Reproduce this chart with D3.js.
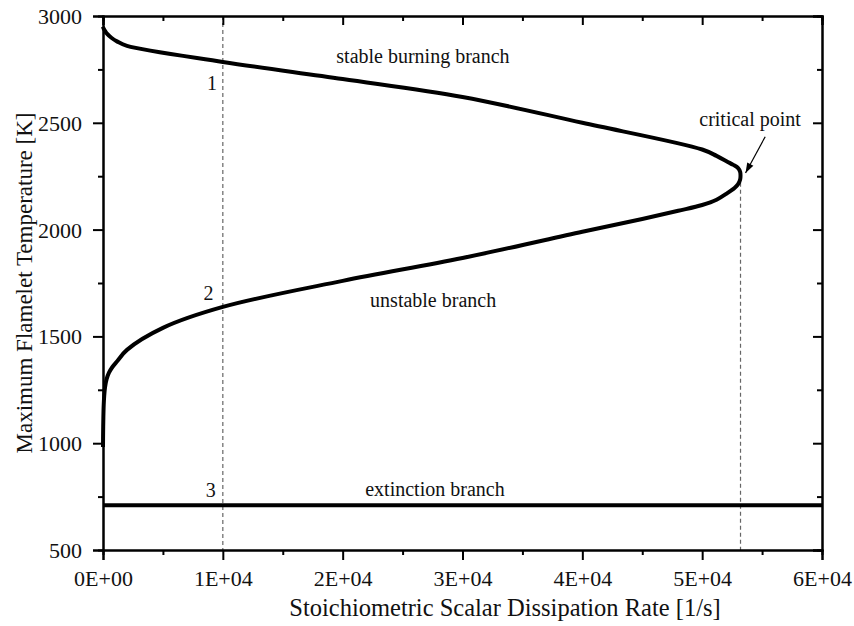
<!DOCTYPE html>
<html><head><meta charset="utf-8">
<script src="https://cdn.jsdelivr.net/npm/d3@7"></script>
<style>body{margin:0;background:#fff}svg text{font-family:"Liberation Serif","Times New Roman",serif;fill:#111}</style>
</head><body>
<svg id="c" width="854" height="626"></svg>
<script>
// S-curve: stoichiometric scalar dissipation rate [1/s] vs maximum flamelet temperature [K]
const chiValues = [0, 10, 30, 60, 100, 170, 300, 500, 800, 1200, 2000, 5000, 10000, 20000, 30000, 40000, 45000, 48000, 50000, 51200, 52100, 52700, 53000, 53170, 53200, 53170, 53000, 52600, 52100, 51200, 50000, 40000, 30000, 20000, 10000, 2000, 1200, 700, 350, 150, 40, 0];
const tempValues = [982, 1050, 1120, 1180, 1220, 1262, 1300, 1330, 1358, 1385, 1437, 1540, 1638, 1760, 1867, 1990, 2050, 2088, 2115, 2140, 2171, 2195, 2213, 2235, 2252, 2270, 2288, 2303, 2318, 2345, 2375, 2500, 2621, 2705, 2785, 2860, 2880, 2898, 2916, 2932, 2943, 2950];
const extinctionChi = [0, 60000];
const extinctionTemp = [710, 710];
const xTicks = [0, 10000, 20000, 30000, 40000, 50000, 60000];
const xTickLabels = ["0E+00", "1E+04", "2E+04", "3E+04", "4E+04", "5E+04", "6E+04"];
const yTicks = [500, 1000, 1500, 2000, 2500, 3000];
const refChi = [10000, 53200];
const criticalTemp = 2252;
const pointLabels = [{t:"1", x:9100, y:2655}, {t:"2", x:8800, y:1670}, {t:"3", x:9000, y:748}];
const branchLabels = [{t:"stable burning branch", x:26700, y:2778}, {t:"unstable branch", x:27550, y:1637}, {t:"extinction branch", x:27700, y:752}];

const svg = d3.select("#c");
const L = 103, R = 822, T = 16, B = 550;
const x = d3.scaleLinear().domain([0, 60000]).range([L, R]);
const y = d3.scaleLinear().domain([500, 3000]).range([B, T]);

// dashed reference lines
svg.append("line").attr("x1", x(refChi[0])).attr("x2", x(refChi[0])).attr("y1", T).attr("y2", B)
  .attr("stroke", "#666").attr("stroke-width", 1.2).attr("stroke-dasharray", "4,3");
svg.append("line").attr("x1", x(refChi[1])).attr("x2", x(refChi[1])).attr("y1", y(criticalTemp)).attr("y2", B)
  .attr("stroke", "#666").attr("stroke-width", 1.2).attr("stroke-dasharray", "4,3");

// axes
const minorX = d3.range(0, 60001, 5000).filter(v => v % 10000 !== 0);
const minorY = d3.range(500, 3001, 250).filter(v => v % 500 !== 0);
const bottom = d3.axisBottom(x).tickValues(xTicks).tickFormat((d,i)=>xTickLabels[i]).tickSize(10);
const left = d3.axisLeft(y).tickValues(yTicks).tickFormat(d3.format("d")).tickSize(10);
const gB = svg.append("g").attr("transform", `translate(0,${B})`).call(bottom);
const gL = svg.append("g").attr("transform", `translate(${L},0)`).call(left);
gB.selectAll(".tick text").attr("y", 36).attr("dy", 0);
gL.selectAll(".tick text").attr("x", -21).attr("dy", "0.34em");
svg.append("g").attr("transform", `translate(0,${T})`).call(d3.axisBottom(x).tickValues(xTicks).tickSize(9).tickFormat(""));
svg.append("g").attr("transform", `translate(${R},0)`).call(d3.axisLeft(y).tickValues(yTicks).tickSize(9).tickFormat(""));
svg.append("g").attr("transform", `translate(0,${B})`).call(d3.axisBottom(x).tickValues(minorX).tickSize(5).tickFormat(""));
svg.append("g").attr("transform", `translate(${L},0)`).call(d3.axisLeft(y).tickValues(minorY).tickSize(5).tickFormat(""));
svg.append("g").attr("transform", `translate(0,${T})`).call(d3.axisBottom(x).tickValues(minorX).tickSize(5).tickFormat(""));
svg.append("g").attr("transform", `translate(${R},0)`).call(d3.axisLeft(y).tickValues(minorY).tickSize(5).tickFormat(""));
svg.selectAll(".domain").attr("stroke", "#000").attr("stroke-width", 2);
svg.selectAll(".tick line").attr("stroke", "#000").attr("stroke-width", 2);
svg.selectAll(".tick text").attr("font-size", 22).attr("font-family", '"Liberation Serif",serif').attr("fill", "#111");

// axis titles
svg.append("text").attr("x", 505).attr("y", 616).attr("text-anchor", "middle").attr("font-size", 24.5)
  .text("Stoichiometric Scalar Dissipation Rate [1/s]");
svg.append("text").attr("transform", `translate(32,${(T+B)/2}) rotate(-90)`).attr("text-anchor", "middle").attr("font-size", 23)
  .text("Maximum Flamelet Temperature [K]");

// curves
const pts = chiValues.map((c,i)=>[c, tempValues[i]]);
const line = d3.line().x(d=>x(d[0])).y(d=>y(d[1])).curve(d3.curveCatmullRom.alpha(0.5));
svg.append("path").attr("d", line(pts)).attr("fill", "none").attr("stroke", "#000").attr("stroke-width", 4).attr("stroke-linejoin", "round");
svg.append("path").attr("d", d3.line().x(d=>x(d[0])).y(d=>y(d[1]))(extinctionChi.map((c,i)=>[c, extinctionTemp[i]])))
  .attr("fill", "none").attr("stroke", "#000").attr("stroke-width", 4);

// labels
svg.selectAll(".pl").data(pointLabels).enter().append("text").attr("x", d=>x(d.x)).attr("y", d=>y(d.y))
  .attr("text-anchor", "middle").attr("font-size", 20).text(d=>d.t);
svg.selectAll(".bl").data(branchLabels).enter().append("text").attr("x", d=>x(d.x)).attr("y", d=>y(d.y))
  .attr("text-anchor", "middle").attr("font-size", 20).text(d=>d.t);
svg.append("text").attr("x", x(54000)).attr("y", y(2485)).attr("text-anchor", "middle").attr("font-size", 20).text("critical point");

// arrow
svg.append("defs").append("marker").attr("id", "ah").attr("viewBox", "0 0 10 10").attr("refX", 10).attr("refY", 5)
  .attr("markerUnits", "userSpaceOnUse").attr("markerWidth", 12).attr("markerHeight", 10).attr("orient", "auto")
  .append("path").attr("d", "M0,1.5 L10,5 L0,8.5 Z").attr("fill", "#000");
svg.append("line").attr("x1", x(55260)).attr("y1", y(2435)).attr("x2", x(53620)).attr("y2", y(2265))
  .attr("stroke", "#000").attr("stroke-width", 1.2).attr("marker-end", "url(#ah)");
</script>
</body></html>
